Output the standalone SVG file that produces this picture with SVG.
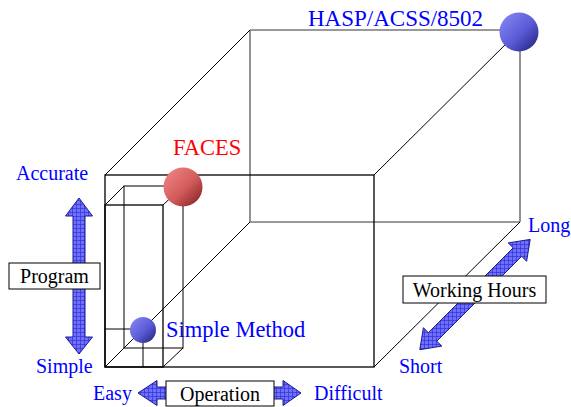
<svg xmlns="http://www.w3.org/2000/svg" width="571" height="407" viewBox="0 0 571 407">
<style>
.front{stroke:#000;stroke-width:1.3;fill:none}
.diag{stroke:#000;stroke-width:1;fill:none}
.back{stroke:#777;stroke-width:1.6;fill:none}
.lbl{font-family:"Liberation Serif","Times New Roman",serif;font-size:20px;fill:#0000ff}
.big{font-family:"Liberation Serif","Times New Roman",serif;font-size:22.5px}
.box{fill:#fff;stroke:#000;stroke-width:1}
.btxt{font-family:"Liberation Serif","Times New Roman",serif;font-size:20px;fill:#000;text-anchor:middle}
.arrow{fill:url(#grid);stroke:#1a1a90;stroke-width:1}
</style>
<defs>
<pattern id="grid" width="4" height="4" patternUnits="userSpaceOnUse">
<rect width="4" height="4" fill="#7070ff"/>
<path d="M0 0.5H4M0.5 0V4" stroke="#3030d0" stroke-width="0.7"/>
</pattern>
<linearGradient id="red" x1="0" y1="0" x2="1" y2="1">
<stop offset="0" stop-color="#f48a8a"/>
<stop offset="0.55" stop-color="#d25a5a"/>
<stop offset="1" stop-color="#7a1c1c"/>
</linearGradient>
<linearGradient id="blue" x1="0" y1="0" x2="1" y2="1">
<stop offset="0" stop-color="#8a8af8"/>
<stop offset="0.55" stop-color="#5a5ad6"/>
<stop offset="1" stop-color="#1c1c72"/>
</linearGradient>
</defs>
<rect width="571" height="407" fill="#fff"/>
<g id="connectors">
<g id="cube-back">
<line class="back" x1="250" y1="30" x2="520" y2="30"/>
<line class="back" x1="520" y1="30" x2="520" y2="222"/>
<line class="back" x1="250" y1="222" x2="520" y2="222"/>
<line class="back" x1="250" y1="30" x2="250" y2="222"/>
</g>
<g id="cube-diagonals">
<line class="diag" x1="105" y1="175" x2="250" y2="30"/>
<line class="diag" x1="374" y1="175" x2="520" y2="30"/>
<line class="diag" x1="374" y1="367" x2="520" y2="222"/>
<line class="diag" x1="105" y1="367" x2="250" y2="222"/>
</g>
<g id="cube-front">
<rect class="front" x="105" y="175" width="269" height="192"/>
</g>
<g id="inner-box">
<rect class="diag" x="124" y="186" width="59" height="162"/>
<line class="diag" x1="105" y1="205" x2="124" y2="186"/>
<line class="diag" x1="163" y1="205" x2="183" y2="186"/>
<line class="diag" x1="105" y1="367" x2="124" y2="348"/>
<line class="diag" x1="163" y1="367" x2="183" y2="348"/>
<rect class="front" x="105" y="205" width="58" height="162"/>
<line class="diag" x1="105" y1="329" x2="143" y2="329"/>
<line class="diag" x1="143" y1="329" x2="143" y2="367"/>
</g>
</g>
<g id="node-hasp">
<circle cx="519" cy="32" r="19.5" fill="url(#blue)"/>
<text class="big" x="308" y="26" fill="#0000ff" style="font-size:23px">HASP/ACSS/8502</text>
</g>
<g id="node-faces">
<circle cx="183" cy="187" r="19.5" fill="url(#red)"/>
<text class="big" x="173" y="155" fill="#ff0000">FACES</text>
</g>
<g id="node-simple-method">
<circle cx="143" cy="330" r="13" fill="url(#blue)"/>
<text class="big" x="166" y="337" fill="#0000ff">Simple Method</text>
</g>
<g id="axis-program">
<polygon class="arrow" points="79,198 92.5,216 85,216 85,337 92.5,337 79,354 65.5,337 73,337 73,216 65.5,216"/>
<rect class="box" x="9" y="263" width="91" height="26"/>
<text class="btxt" x="54.5" y="283">Program</text>
<text class="lbl" x="16" y="180">Accurate</text>
<text class="lbl" x="36" y="373">Simple</text>
</g>
<g id="axis-operation">
<polygon class="arrow" points="138,393 157,380.5 157,387 283,387 283,380.5 301,393 283,405.5 283,399 157,399 157,405.5"/>
<rect class="box" x="166" y="381" width="108" height="25"/>
<text class="btxt" x="220" y="401">Operation</text>
<text class="lbl" x="93" y="400">Easy</text>
<text class="lbl" x="314" y="400">Difficult</text>
</g>
<g id="axis-working-hours">
<polygon class="arrow" points="530.2,239.4 526.6,261.3 521.7,256.3 436.8,341.2 441.8,346.1 419.8,349.7 423.4,327.7 428.3,332.7 513.2,247.8 508.2,242.9"/>
<rect class="box" x="403" y="276" width="143" height="27"/>
<text class="btxt" x="474.5" y="297">Working Hours</text>
<text class="lbl" x="528" y="232">Long</text>
<text class="lbl" x="399" y="373">Short</text>
</g>
</svg>
